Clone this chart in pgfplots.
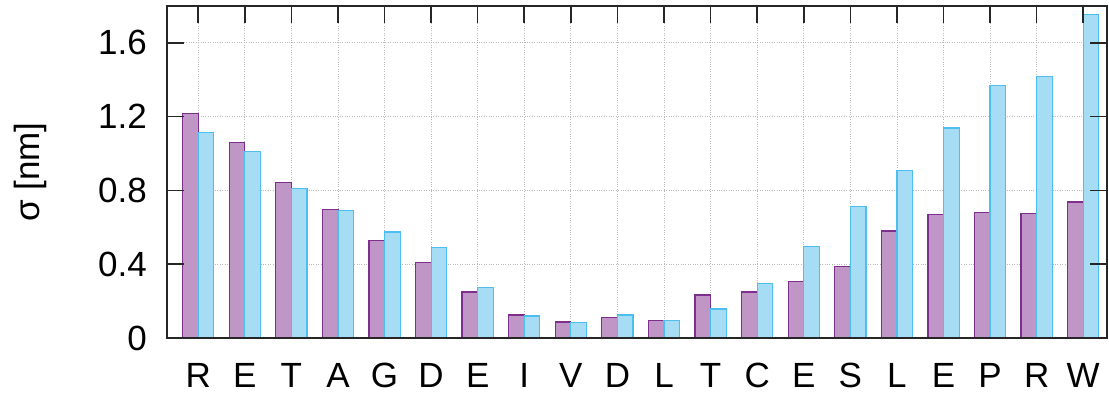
\documentclass[border=0pt]{standalone}
\usepackage{fontspec}
\setmainfont{Liberation Sans}
\usepackage{pgfplots}
\pgfplotsset{compat=1.18}
\definecolor{pfill}{RGB}{191,150,198}
\definecolor{pedge}{RGB}{126,47,142}
\definecolor{bfill}{RGB}{166,221,245}
\definecolor{bedge}{RGB}{77,190,238}
\pgfplotsset{
  common/.style={
    scale only axis,
    width=940pt, height=332pt,
    xmin=-0.67, xmax=19.51,
    ymin=0, ymax=1.8,
    xtick={0,...,19},
    ytick={0,0.4,0.8,1.2,1.6},
    axis line style={black!85, line width=1.3pt},
  }
}
\begin{document}
\begin{tikzpicture}
\begin{axis}[
  common,
  ybar=0pt, bar width=15.6pt,
  xticklabels={}, yticklabels={},
  major tick length=0pt,
  grid=major,
  major grid style={draw=gray!55, dotted, line width=0.8pt},
]
\addplot[fill=pfill, draw=pedge, line width=1.2pt] coordinates {
(0,1.219) (1,1.061) (2,0.842) (3,0.698) (4,0.528) (5,0.410) (6,0.249) (7,0.125) (8,0.087) (9,0.110)
(10,0.096) (11,0.233) (12,0.249) (13,0.305) (14,0.389) (15,0.580) (16,0.671) (17,0.680) (18,0.674) (19,0.737)};
\addplot[fill=bfill, draw=bedge, line width=1.2pt] coordinates {
(0,1.113) (1,1.009) (2,0.812) (3,0.692) (4,0.575) (5,0.492) (6,0.275) (7,0.119) (8,0.083) (9,0.125)
(10,0.096) (11,0.157) (12,0.297) (13,0.497) (14,0.712) (15,0.909) (16,1.139) (17,1.368) (18,1.419) (19,1.752)};
\end{axis}
\begin{axis}[
  common,
  xticklabels={R,E,T,A,G,D,E,I,V,D,L,T,C,E,S,L,E,P,R,W},
  yticklabels={0,0.4,0.8,1.2,1.6},
  xtick pos=upper, xticklabel pos=lower,
  ytick pos=both, yticklabel pos=left,
  tick align=inside,
  major tick length=17pt,
  major tick style={draw=black!85, line width=1.6pt},
  ticklabel style={font=\fontsize{35}{40}\selectfont, text=black},
  yticklabel style={inner sep=0pt, xshift=-20pt},
  xticklabel style={inner sep=0pt, anchor=north, yshift=-25pt},
  ylabel={σ [nm]},
  ylabel style={font=\fontsize{35}{40}\selectfont, at={(axis description cs:0,0.5)}, anchor=center, yshift=137pt},
]
\end{axis}
\pgfresetboundingbox
\path (current axis.south west) ++(-167pt,-57pt) coordinate (a);
\path (current axis.north east) ++(2pt,6pt) coordinate (b);
\useasboundingbox (a) rectangle (b);
\end{tikzpicture}
\end{document}
